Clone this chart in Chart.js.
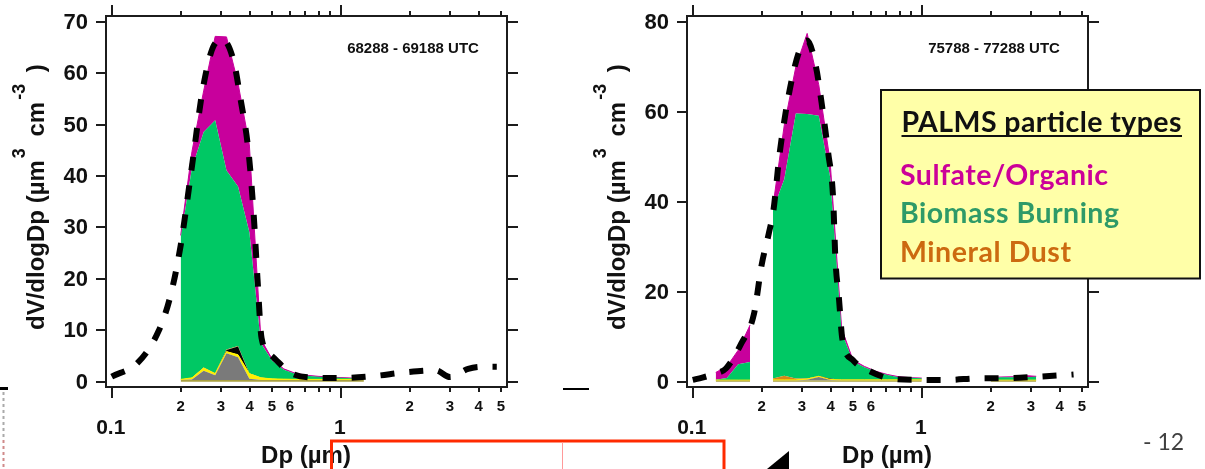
<!DOCTYPE html>
<html>
<head>
<meta charset="utf-8">
<script src="https://cdn.jsdelivr.net/npm/chart.js@4.4.1/dist/chart.umd.min.js"></script>
<style>
  body { margin: 0; background: #fff; width: 1205px; height: 469px; overflow: hidden; position: relative; }
  canvas { position: absolute; top: 0; }
  #c1 { left: 0; }
  #c2 { left: 580px; }
  #deco { position: absolute; left: 0; top: 0; }
  .lg { font-family: Lato, "Open Sans", sans-serif; font-weight: bold; font-size: 28.5px; }
</style>
</head>
<body>
<canvas id="c1" width="580" height="469"></canvas>
<canvas id="c2" width="625" height="469"></canvas>

<svg id="deco" width="1205" height="469">
  <!-- particle type key -->
  <rect x="881" y="90" width="319" height="188.5" fill="#FFFFA8" stroke="#111" stroke-width="2"/>
  <text class="lg" x="901.5" y="131.5" fill="#111" textLength="280" lengthAdjust="spacing">PALMS particle types</text>
  <line x1="901.5" y1="136" x2="1182" y2="136" stroke="#111" stroke-width="2"/>
  <text class="lg" x="900" y="185" fill="#CC0099" textLength="208" lengthAdjust="spacing">Sulfate/Organic</text>
  <text class="lg" x="900" y="223" fill="#2E9A68" textLength="219" lengthAdjust="spacing">Biomass Burning</text>
  <text class="lg" x="900" y="261.5" fill="#CC6A10" textLength="171" lengthAdjust="spacing">Mineral Dust</text>

  <!-- bits of the slide around the plots -->
  <rect x="331.5" y="441" width="392.5" height="60" fill="none" stroke="#FF2A00" stroke-width="3"/>
  <line x1="562.5" y1="442.5" x2="562.5" y2="469" stroke="#FF9A9A" stroke-width="1"/>
  <polygon points="767,469 789,451 789,469" fill="#000"/>
  <text x="1143" y="450" font-family="Lato, sans-serif" font-size="23" fill="#404040">- 12</text>
  <line x1="0" y1="388.5" x2="8" y2="388.5" stroke="#000" stroke-width="3"/>
  <line x1="3.5" y1="392" x2="3.5" y2="440" stroke="#aaa" stroke-dasharray="3 3" stroke-width="2"/>
  <line x1="3.5" y1="440" x2="3.5" y2="469" stroke="#d08a8a" stroke-dasharray="3 3" stroke-width="2"/>
  <line x1="563" y1="389" x2="589" y2="389" stroke="#000" stroke-width="2"/>
</svg>

<script>
// Axis ticks shared by both panels (Dp in µm, log axis)
const xTicks = [0.1, 0.2, 0.3, 0.4, 0.5, 0.6, 0.7, 0.8, 0.9, 1, 2, 3, 4, 5];
const xTickLabels = ['0.1', '2', '3', '4', '5', '6', '', '', '', '1', '2', '3', '4', '5'];
const xMajor = [0.1, 1];
const leftYTicks = [0, 10, 20, 30, 40, 50, 60, 70];
const rightYTicks = [0, 20, 40, 60, 80];

// Left panel: 68288 - 69188 UTC
// measured volume distribution (dashed)
const leftMeasX = [0.1, 0.13, 0.16, 0.18, 0.2, 0.225, 0.25, 0.28, 0.305, 0.34, 0.365, 0.395, 0.416, 0.433, 0.451, 0.5, 0.6, 0.75, 1.0, 1.4, 1.9, 2.6, 3.0, 3.6, 4.2, 4.8];
const leftMeasY = [1.0, 3.7, 9.8, 16.5, 26.5, 42.5, 57, 65.5, 66.5, 62.5, 55, 45, 33, 20, 8.5, 5, 1.8, 0.8, 0.7, 1.1, 1.8, 2.2, 0.9, 2.5, 2.9, 2.9];
// PALMS composition by size bin (stacked, bottom to top)
const leftBins = [0.2, 0.224, 0.252, 0.283, 0.317, 0.356, 0.399, 0.448, 0.502, 0.564, 0.632, 0.710, 0.796, 0.893, 1.002, 1.125, 1.262];
const leftMisc = [0.35, 0.35, 0.35, 0.35, 0.35, 0.35, 0.35, 0.35, 0.35, 0.35, 0.35, 0.35, 0.35, 0.35, 0.35, 0.35, 0.35];
const leftGrey = [0, 0.1, 1.8, 0.9, 5.2, 4.4, 0.2, 0, 0, 0, 0, 0, 0, 0, 0, 0, 0];
const leftYellow = [0.1, 0.3, 0.5, 0.3, 0.3, 0.5, 1.0, 0.4, 0.2, 0.15, 0.1, 0.1, 0.1, 0.1, 0.1, 0.1, 0.1];
const leftBlack = [0, 0, 0, 0, 0.3, 1.6, 0, 0, 0, 0, 0, 0, 0, 0, 0, 0, 0];
const leftDust = [0, 0, 0.1, 0.1, 0.1, 0.1, 0.1, 0.05, 0, 0, 0, 0, 0, 0, 0, 0, 0];
const leftBiomass = [27.5, 40.8, 45.8, 49.2, 34.8, 31.0, 27.4, 6.7, 3.5, 1.8, 1.1, 0.7, 0.5, 0.4, 0.3, 0.2, 0.2];
const leftSulfate = [0.5, 3.2, 8.0, 16.3, 26, 20.1, 17, 0.8, 0.3, 0.2, 0.1, 0.1, 0.1, 0.05, 0.05, 0.05, 0.05];

// Right panel: 75788 - 77288 UTC
const rightMeasX = [0.1, 0.11, 0.125, 0.14, 0.163, 0.185, 0.2, 0.215, 0.225, 0.24, 0.265, 0.293, 0.316, 0.345, 0.369, 0.39, 0.41, 0.42, 0.435, 0.45, 0.5, 0.6, 0.75, 1.0, 1.3, 1.75, 2.4, 3.2, 4.3, 4.6];
const rightMeasY = [0.4, 0.9, 1.8, 3.0, 8.5, 15, 26, 33, 38, 51, 64.8, 73.7, 75.8, 70, 60.4, 51, 41, 27, 18.5, 9.5, 4.8, 2.2, 0.6, 0.4, 0.4, 0.75, 0.8, 1.1, 1.5, 1.6];
// null = no PALMS data in that bin
const rightBins = [0.126, 0.141, 0.158, 0.178, 0.2, 0.224, 0.251, 0.282, 0.316, 0.355, 0.398, 0.447, 0.501, 0.562, 0.631, 0.708, 0.794, 0.891, 1.0, 1.5, 2.0, 2.24, 2.51, 2.82, 3.16];
const rightMisc = [0.25, 0.25, 0.25, 0.25, null, 0.25, 0.25, 0.25, 0.25, 0.25, 0.25, 0.25, 0.25, 0.25, 0.25, 0.25, 0.25, 0.25, 0.25, null, 0.25, 0.25, 0.25, 0.25, 0.25];
const rightGrey = [0, 0, 0, 0, null, 0, 0, 0, 0.2, 0.8, 0.1, 0, 0, 0, 0, 0, 0, 0, 0, null, 0, 0, 0, 0, 0];
const rightYellow = [0.1, 0.1, 0.1, 0.1, null, 0.15, 0.15, 0.15, 0.15, 0.15, 0.15, 0.15, 0.15, 0.15, 0.15, 0.15, 0.15, 0.15, 0.15, null, 0.1, 0.1, 0.1, 0.1, 0.1];
const rightBlack = [0, 0, 0, 0, null, 0, 0, 0, 0, 0.05, 0.2, 0, 0, 0, 0, 0, 0, 0, 0, null, 0, 0, 0, 0, 0];
const rightDust = [0.05, 0.05, 0.05, 0.05, null, 0.3, 0.9, 0.3, 0.1, 0, 0, 0.05, 0.05, 0.05, 0.05, 0.05, 0.05, 0.05, 0.05, null, 0, 0, 0, 0, 0];
const rightBiomass = [0.05, 0.4, 3.5, 4.0, null, 37.5, 43.7, 58.9, 58.8, 57.85, 44.8, 10.55, 4.05, 2.75, 1.75, 1.05, 0.55, 0.4, 0.3, null, 0.55, 0.65, 0.65, 0.65, 0.75];
const rightSulfate = [1.6, 2.6, 3.1, 8.2, null, 0.8, 12, 10.4, 17.9, 6.9, 3.5, 0.8, 0.3, 0.2, 0.1, 0.1, 0.1, 0.05, 0.05, null, 0.05, 0.05, 0.1, 0.35, 0.1];

const FONT = '"Liberation Sans", Arial, sans-serif';

function pts(xs, ys) {
  return xs.map((x, i) => ({ x: x, y: ys[i] }));
}

function layer(label, xs, ys, color, fill, edge) {
  return {
    label: label,
    data: pts(xs, ys),
    stack: 'palms',
    backgroundColor: color,
    borderColor: edge || 'rgba(0,0,0,0)',
    borderWidth: 1,
    fill: fill,
    pointRadius: 0,
    tension: 0
  };
}

function measured(xs, ys) {
  return {
    label: 'Measured',
    data: pts(xs, ys),
    stack: 'meas',
    borderColor: '#000',
    borderWidth: 6,
    borderDash: [14, 15],
    borderCapStyle: 'butt',
    fill: false,
    pointRadius: 0,
    cubicInterpolationMode: 'monotone'
  };
}

// axes frame drawn Igor-style: mirrored ticks, offset labels, rotated unit title
const frame = {
  id: 'frame',
  afterDraw(chart, args, o) {
    const ctx = chart.ctx, a = chart.chartArea;
    const xs = chart.scales.x, ys = chart.scales.y;
    ctx.save();
    ctx.strokeStyle = '#1c1c1c';
    ctx.fillStyle = '#111';
    ctx.lineWidth = 2;
    ctx.strokeRect(a.left, a.top, a.right - a.left, a.bottom - a.top);

    ctx.beginPath();
    o.yTicks.forEach(v => {
      const py = Math.round(ys.getPixelForValue(v));
      ctx.moveTo(a.left - 10, py); ctx.lineTo(a.left, py);
      ctx.moveTo(a.right, py); ctx.lineTo(a.right + 11, py);
    });
    xTicks.forEach(v => {
      const px = Math.round(xs.getPixelForValue(v));
      const len = xMajor.includes(v) ? 11 : 5;
      ctx.moveTo(px, a.bottom); ctx.lineTo(px, a.bottom + len);
      ctx.moveTo(px, a.top); ctx.lineTo(px, a.top - len);
    });
    ctx.stroke();

    ctx.font = 'bold 22px ' + FONT;
    ctx.textAlign = 'right';
    ctx.textBaseline = 'middle';
    o.yTicks.forEach(v => ctx.fillText(String(v), a.left - 18, ys.getPixelForValue(v) + 1));

    ctx.textAlign = 'center';
    xTicks.forEach((v, i) => {
      if (!xTickLabels[i]) return;
      const major = xMajor.includes(v);
      ctx.font = (major ? 'bold 21px ' : 'bold 15px ') + FONT;
      ctx.fillText(xTickLabels[i], xs.getPixelForValue(v) - (major ? 1 : 0), a.bottom + (major ? 41 : 20));
    });

    // time window
    ctx.font = 'bold 15px ' + FONT;
    ctx.fillText(o.title, a.left + 307, 49);

    // x title
    ctx.textBaseline = 'alphabetic';
    ctx.font = 'bold 24px ' + FONT;
    ctx.fillText('Dp (µm)', a.left + 200, 463);

    // y title with superscripts, reading upwards
    ctx.translate(a.left - 62, 330);
    ctx.rotate(-Math.PI / 2);
    ctx.textAlign = 'left';
    let pos = 0;
    [['dV/dlogDp (µm', 0, 24, 2], ['3', -19, 18, 5], [' cm', 0, 24, 2], ['-3', -19, 18, 5], [' )', 0, 24, 0]].forEach(p => {
      ctx.font = 'bold ' + p[2] + 'px ' + FONT;
      ctx.fillText(p[0], pos, p[1]);
      pos += ctx.measureText(p[0]).width + p[3];
    });
    ctx.restore();
  }
};

function makeChart(id, padLeft, padRight, yMin, yMax, yTicks, title, datasets) {
  return new Chart(document.getElementById(id), {
    type: 'line',
    data: { datasets: datasets },
    plugins: [frame],
    options: {
      responsive: false,
      animation: false,
      events: [],
      layout: { padding: { left: padLeft, right: padRight, top: 16, bottom: 82 } },
      plugins: {
        legend: { display: false },
        tooltip: { enabled: false },
        frame: { yTicks: yTicks, title: title }
      },
      scales: {
        x: { type: 'logarithmic', min: 0.0944, max: 5.32, display: false },
        y: { type: 'linear', stacked: true, min: yMin, max: yMax, display: false }
      }
    }
  });
}

const MAGENTA = '#C8009C', GREEN = '#00C864', GREY = '#7A7A7A', YELLOW = '#FFF000',
      OLIVE = '#A8A040', DUST = '#D4881A', BLACK = '#000';

makeChart('c1', 106, 73, -1.03, 71.11, leftYTicks, '68288 - 69188 UTC', [
  measured(leftMeasX, leftMeasY),
  layer('Misc', leftBins, leftMisc, OLIVE, 'origin'),
  layer('Grey', leftBins, leftGrey, GREY, '-1'),
  layer('Yellow', leftBins, leftYellow, YELLOW, '-1', YELLOW),
  layer('Black', leftBins, leftBlack, BLACK, '-1'),
  layer('Mineral Dust', leftBins, leftDust, DUST, '-1'),
  layer('Biomass Burning', leftBins, leftBiomass, GREEN, '-1'),
  layer('Sulfate/Organic', leftBins, leftSulfate, MAGENTA, '-1', MAGENTA)
]);

makeChart('c2', 107, 117, -1.18, 81.27, rightYTicks, '75788 - 77288 UTC', [
  measured(rightMeasX, rightMeasY),
  layer('Misc', rightBins, rightMisc, OLIVE, 'origin'),
  layer('Grey', rightBins, rightGrey, GREY, '-1'),
  layer('Yellow', rightBins, rightYellow, YELLOW, '-1', YELLOW),
  layer('Black', rightBins, rightBlack, BLACK, '-1'),
  layer('Mineral Dust', rightBins, rightDust, DUST, '-1'),
  layer('Biomass Burning', rightBins, rightBiomass, GREEN, '-1'),
  layer('Sulfate/Organic', rightBins, rightSulfate, MAGENTA, '-1', MAGENTA)
]);
</script>
</body>
</html>
